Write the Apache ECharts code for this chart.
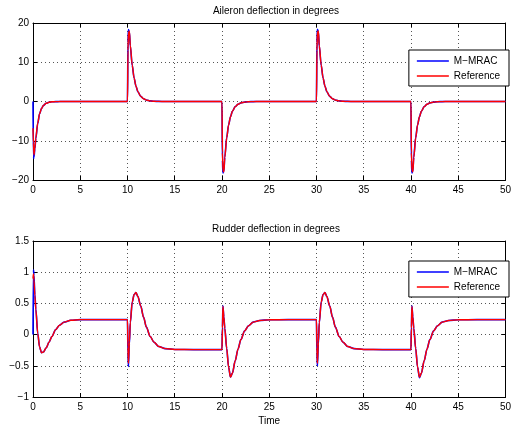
<!DOCTYPE html>
<html>
<head>
<meta charset="utf-8">
<script src="https://cdn.jsdelivr.net/npm/echarts/dist/echarts.min.js"></script>
<style>
html,body{margin:0;padding:0;background:#fff;}
#chart{width:514px;height:429px;}
</style>
</head>
<body>
<div id="chart"></div>
<script>
// Shared time samples (s)
const time = [
  0,0.05,0.1,0.2,0.3,0.5,0.7,0.9,1.1,1.4,1.7,2,2.4,2.8,3.3,4,5,7,
  10,10.05,10.1,10.2,10.3,10.5,10.7,10.9,11.1,11.4,11.7,12,12.4,12.8,13.3,14,15,17,
  20,20.05,20.1,20.2,20.3,20.5,20.7,20.9,21.1,21.4,21.7,22,22.4,22.8,23.3,24,25,27,
  30,30.05,30.1,30.2,30.3,30.5,30.7,30.9,31.1,31.4,31.7,32,32.4,32.8,33.3,34,35,37,
  40,40.05,40.1,40.2,40.3,40.5,40.7,40.9,41.1,41.4,41.7,42,42.4,42.8,43.3,44,45,47,
  50
];

// Aileron deflection (deg)
const aileronMMRAC = [
  0,-14.5,-14.2,-12.0,-9.4,-5.6,-3.1,-1.8,-1.0,-0.45,-0.2,-0.08,-0.03,-0.01,0,0,0,0,
  0,15,18.3,17.7,14.1,9.2,6.0,3.9,2.5,1.3,0.7,0.35,0.15,0.06,0.02,0,0,0,
  0,-15,-18.2,-17.7,-14.1,-9.2,-6.0,-3.9,-2.5,-1.3,-0.7,-0.35,-0.15,-0.06,-0.02,0,0,0,
  0,15,18.4,17.7,14.1,9.2,6.0,3.9,2.5,1.3,0.7,0.35,0.15,0.06,0.02,0,0,0,
  0,-15,-18.2,-17.7,-14.1,-9.2,-6.0,-3.9,-2.5,-1.3,-0.7,-0.35,-0.15,-0.06,-0.02,0,0,0,
  0
];
const aileronRef = [
  -6.8,-10.5,-13.6,-11.8,-9.3,-5.5,-3.1,-1.8,-1.0,-0.45,-0.2,-0.08,-0.03,-0.01,0,0,0,0,
  0,13,17.5,17.9,14.3,9.3,6.0,3.9,2.5,1.3,0.7,0.35,0.15,0.06,0.02,0,0,0,
  0,-13,-17.5,-17.9,-14.3,-9.3,-6.0,-3.9,-2.5,-1.3,-0.7,-0.35,-0.15,-0.06,-0.02,0,0,0,
  0,13,17.6,18.0,14.3,9.3,6.0,3.9,2.5,1.3,0.7,0.35,0.15,0.06,0.02,0,0,0,
  0,-13,-17.5,-17.9,-14.3,-9.3,-6.0,-3.9,-2.5,-1.3,-0.7,-0.35,-0.15,-0.06,-0.02,0,0,0,
  0
];

// Rudder deflection (deg)
const rudderMMRAC = [
  0,1.04,0.95,0.64,0.41,0.02,-0.2,-0.29,-0.28,-0.21,-0.12,-0.03,0.08,0.15,0.2,0.23,0.24,0.24,
  0.24,-0.3,-0.51,-0.15,0.19,0.52,0.64,0.675,0.61,0.46,0.28,0.12,-0.03,-0.12,-0.19,-0.225,-0.238,-0.24,
  -0.24,0.12,0.46,0.28,0.1,-0.22,-0.52,-0.68,-0.62,-0.42,-0.23,-0.08,0.06,0.14,0.2,0.225,0.238,0.24,
  0.24,-0.3,-0.5,-0.15,0.19,0.52,0.64,0.675,0.61,0.46,0.28,0.12,-0.03,-0.12,-0.19,-0.225,-0.238,-0.24,
  -0.24,0.12,0.46,0.28,0.1,-0.22,-0.52,-0.69,-0.62,-0.42,-0.23,-0.08,0.06,0.14,0.2,0.225,0.238,0.24,
  0.24
];
const rudderRef = [
  0.9,0.97,0.88,0.62,0.4,0.02,-0.2,-0.29,-0.28,-0.21,-0.12,-0.03,0.08,0.15,0.2,0.23,0.24,0.24,
  0.24,-0.2,-0.46,-0.12,0.2,0.52,0.64,0.675,0.61,0.46,0.28,0.12,-0.03,-0.12,-0.19,-0.225,-0.238,-0.24,
  -0.24,0.1,0.45,0.28,0.1,-0.22,-0.52,-0.68,-0.62,-0.42,-0.23,-0.08,0.06,0.14,0.2,0.225,0.238,0.24,
  0.24,-0.2,-0.46,-0.12,0.2,0.52,0.64,0.675,0.61,0.46,0.28,0.12,-0.03,-0.12,-0.19,-0.225,-0.238,-0.24,
  -0.24,0.1,0.45,0.28,0.1,-0.22,-0.52,-0.68,-0.62,-0.42,-0.23,-0.08,0.06,0.14,0.2,0.225,0.238,0.24,
  0.24
];

const titles = ['Aileron deflection in degrees', 'Rudder deflection in degrees'];
const xLabel = 'Time';
const seriesNames = ['M\u2212MRAC', 'Reference'];

const FONT = '"Liberation Sans", Arial, Helvetica, sans-serif';
const pair = (vals) => time.map((t, i) => [t, vals[i]]);
const fmt = (v) => String(v).replace('-', '\u2212');

const gridDefs = [
  {left: 33, top: 23, width: 476, height: 157},
  {left: 33, top: 241, width: 476, height: 156}
];
const yRanges = [{min: -20, max: 20, interval: 10}, {min: -1, max: 1.5, interval: 0.5}];

const axisLineStyle = {show: true, onZero: false, lineStyle: {color: '#000', width: 1}};
const tickStyle = {show: true, inside: true, length: 4, lineStyle: {color: '#000'}};
const gridLineStyle = {show: true, lineStyle: {color: '#555', type: [1, 3], width: 1}};

const xAxes = [], yAxes = [];
[0, 1].forEach(g => {
  xAxes.push({
    type: 'value', gridIndex: g, min: 0, max: 50, interval: 5, position: 'bottom',
    axisLine: axisLineStyle, axisTick: tickStyle,
    axisLabel: {color: '#000', fontSize: 10, fontFamily: FONT, margin: 5, formatter: fmt},
    splitLine: gridLineStyle,
    name: g === 1 ? xLabel : '', nameLocation: 'middle', nameGap: 19,
    nameTextStyle: {color: '#000', fontSize: 10, fontFamily: FONT}
  });
  xAxes.push({
    type: 'value', gridIndex: g, min: 0, max: 50, interval: 5, position: 'top',
    axisLine: axisLineStyle, axisTick: tickStyle,
    axisLabel: {show: false}, splitLine: {show: false}
  });
  yAxes.push({
    type: 'value', gridIndex: g, min: yRanges[g].min, max: yRanges[g].max, interval: yRanges[g].interval,
    position: 'left',
    axisLine: axisLineStyle, axisTick: tickStyle,
    axisLabel: {color: '#000', fontSize: 10, fontFamily: FONT, margin: 4, formatter: fmt},
    splitLine: gridLineStyle
  });
  yAxes.push({
    type: 'value', gridIndex: g, min: yRanges[g].min, max: yRanges[g].max, interval: yRanges[g].interval,
    position: 'right',
    axisLine: axisLineStyle, axisTick: tickStyle,
    axisLabel: {show: false}, splitLine: {show: false}
  });
});

function mkSeries(name, vals, g, color, width, z) {
  return {
    name: name, type: 'line', xAxisIndex: g * 2, yAxisIndex: g * 2,
    data: pair(vals), showSymbol: false, symbol: 'none', smooth: 0.3, smoothMonotone: 'x',
    lineStyle: {color: color, width: width}, itemStyle: {color: color},
    z: z, animation: false
  };
}

const legendBase = {
  orient: 'vertical', right: 5, icon: 'rect', itemWidth: 32, itemHeight: 1.5, itemGap: 5,
  padding: [6, 9, 5, 8], borderColor: '#000', borderWidth: 1, backgroundColor: '#fff',
  textStyle: {color: '#000', fontSize: 10, fontFamily: FONT},
  data: seriesNames
};

const option = {
  backgroundColor: '#fff',
  animation: false,
  title: [
    {text: titles[0], left: 271, textAlign: 'center', top: 1,
     textStyle: {fontSize: 10, fontWeight: 'normal', color: '#000', fontFamily: FONT}},
    {text: titles[1], left: 271, textAlign: 'center', top: 219,
     textStyle: {fontSize: 10, fontWeight: 'normal', color: '#000', fontFamily: FONT}}
  ],
  legend: [
    Object.assign({}, legendBase, {top: 50}),
    Object.assign({}, legendBase, {top: 261})
  ],
  grid: gridDefs,
  xAxis: xAxes,
  yAxis: yAxes,
  series: [
    mkSeries(seriesNames[0], aileronMMRAC, 0, '#0000ff', 1.6, 2),
    mkSeries(seriesNames[1], aileronRef, 0, '#ff0000', 1.4, 3),
    mkSeries(seriesNames[0], rudderMMRAC, 1, '#0000ff', 1.6, 2),
    mkSeries(seriesNames[1], rudderRef, 1, '#ff0000', 1.4, 3)
  ]
};

const chart = echarts.init(document.getElementById('chart'), null, {renderer: 'canvas'});
chart.setOption(option);
</script>
</body>
</html>
